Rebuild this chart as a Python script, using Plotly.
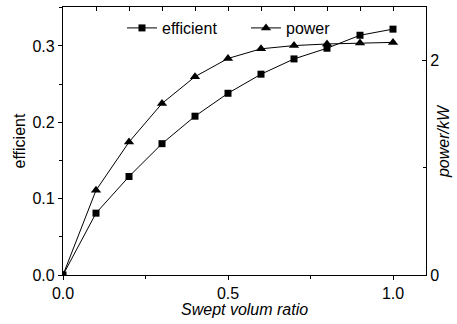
import plotly.graph_objects as go

ratio = [0.0, 0.1, 0.2, 0.3, 0.4, 0.5, 0.6, 0.7, 0.8, 0.9, 1.0]
efficient = [0.0, 0.081, 0.129, 0.172, 0.208, 0.238, 0.263, 0.283, 0.297, 0.314, 0.322]
power = [0.0, 0.79, 1.24, 1.60, 1.85, 2.02, 2.11, 2.14, 2.155, 2.165, 2.17]

FONT = "Liberation Sans, Arial, sans-serif"
FS = 16

fig = go.Figure()
fig.add_trace(go.Scatter(
    x=ratio, y=efficient, name="efficient", mode="lines+markers",
    line=dict(color="black", width=1),
    marker=dict(symbol="square", size=7, color="black"),
))
fig.add_trace(go.Scatter(
    x=ratio, y=power, name="power", mode="lines+markers",
    xaxis="x2", yaxis="y2",
    line=dict(color="black", width=1),
    marker=dict(symbol="triangle-up", size=9, color="black"),
))

axis_common = dict(showgrid=False, zeroline=False, showline=True, automargin=False,
                   linecolor="black", linewidth=1.3, tickcolor="black",
                   tickfont=dict(family=FONT, size=FS, color="black"))

fig.update_layout(
    width=457, height=324,
    margin=dict(l=63, r=31, t=7, b=49),
    paper_bgcolor="white", plot_bgcolor="white",
    font=dict(family=FONT, size=FS, color="black"),
    showlegend=True,
    legend=dict(orientation="h", x=0.1625, y=0.985, xanchor="left", yanchor="top",
                bgcolor="rgba(0,0,0,0)", font=dict(family=FONT, size=FS),
                itemwidth=30, entrywidth=79, entrywidthmode="pixels"),
    xaxis=dict(range=[0, 1.1], tickmode="linear", tick0=0, dtick=0.5,
               tickformat=".1f", ticks="outside", ticklen=4,
               minor=dict(tickmode="linear", tick0=0, dtick=0.25, ticks="outside", ticklen=3, tickcolor="black"),
               **axis_common),
    xaxis2=dict(range=[0, 1.1], overlaying="x", side="top", tickmode="linear", tick0=0, dtick=0.1,
                ticks="inside", ticklen=4, showticklabels=False, **axis_common),
    yaxis=dict(range=[0, 0.351], tickmode="linear", tick0=0, dtick=0.1,
               tickformat=".1f", ticks="outside", ticklen=4,
               minor=dict(tickmode="linear", tick0=0, dtick=0.05, ticks="outside", ticklen=3, tickcolor="black"),
               **axis_common),
    yaxis2=dict(range=[0, 2.5], overlaying="y", side="right", tickmode="linear", tick0=0, dtick=2,
                ticks="inside", ticklen=4,
                minor=dict(tickmode="linear", tick0=0, dtick=1, ticks="inside", ticklen=3, tickcolor="black"),
                **axis_common),
    annotations=[
        dict(text="<i>Swept volum ratio</i>", xref="paper", yref="paper", x=0.5, y=-0.13,
             xanchor="center", yanchor="middle", showarrow=False, font=dict(family=FONT, size=FS)),
        dict(text="efficient", xref="paper", yref="paper", x=-0.12, y=0.5, textangle=-90,
             xanchor="center", yanchor="middle", showarrow=False, font=dict(family=FONT, size=FS)),
        dict(text="<i>power/kW</i>", xref="paper", yref="paper", x=1.047, y=0.5, textangle=-90,
             xanchor="center", yanchor="middle", showarrow=False, font=dict(family=FONT, size=FS)),
    ],
)

fig.write_html("out.html")
